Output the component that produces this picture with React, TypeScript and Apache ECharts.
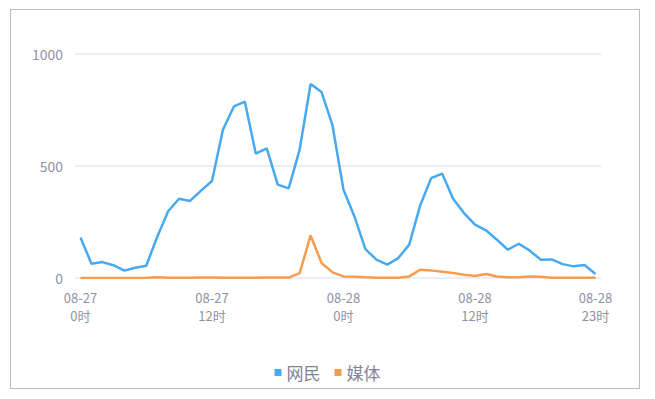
import React, { useEffect, useRef } from "react";
import * as echarts from "echarts";

const hours: string[] = [];
for (let d = 27; d <= 28; d++) {
  for (let h = 0; h < 24; h++) hours.push(`08-${d}\n${h}时`);
}
const categories = hours;

const netizenValues = [
  181, 64, 71, 57, 33, 46, 55, 183, 298, 354, 344, 390,
  433, 662, 766, 787, 555, 579, 417, 400, 573, 866, 830, 681,
  394, 275, 129, 82, 60, 89, 149, 324, 446, 466, 354, 290,
  238, 213, 171, 126, 153, 122, 82, 83, 62, 52, 58, 18,
];
const mediaValues = [
  0, 0, 0, 0, 0, 0, 1, 3, 1, 1, 1, 2,
  2, 1, 1, 1, 1, 2, 2, 2, 22, 190, 67, 25,
  7, 6, 3, 1, 1, 1, 7, 37, 34, 28, 22, 15,
  9, 18, 7, 3, 3, 7, 6, 1, 1, 1, 1, 1,
];
const seriesNames = ["网民", "媒体"];
const labelIndices = [0, 12, 24, 36, 47];
const yTicks = [0, 500, 1000];

const FONT = '"Noto Sans CJK SC", "Noto Sans", sans-serif';
const TEXT = "#8d92a3";

export default function App() {
  const ref = useRef<HTMLDivElement>(null);
  useEffect(() => {
    if (!ref.current) return;
    const chart = echarts.init(ref.current, null, { renderer: "svg" });
    chart.setOption({
      animation: false,
      color: ["#47a9f0", "#f99b4d"],
      textStyle: { fontFamily: FONT },
      grid: { left: 75, right: 54, top: 54, bottom: 121, containLabel: false },
      legend: {
        data: seriesNames,
        top: 359,
        left: "center",
        icon: "rect",
        itemWidth: 7,
        itemHeight: 7,
        itemGap: 14,
        textStyle: { color: "#7f8496", fontSize: 17, fontFamily: FONT },
      },
      xAxis: {
        type: "category",
        boundaryGap: true,
        data: categories,
        axisLine: { show: false },
        axisTick: { show: false },
        axisLabel: {
          interval: (i: number) => labelIndices.includes(i),
          color: TEXT,
          fontSize: 13,
          lineHeight: 18,
          margin: 10,
          fontFamily: FONT,
        },
      },
      yAxis: {
        type: "value",
        min: yTicks[0],
        max: yTicks[yTicks.length - 1],
        interval: 500,
        axisLine: { show: false },
        axisTick: { show: false },
        axisLabel: {
          color: TEXT,
          fontSize: 14,
          margin: 12,
          fontFamily: FONT,
          formatter: (v: number) => String(v),
        },
        splitLine: { lineStyle: { color: "#e4e8f3", width: 1.5 } },
      },
      series: [
        {
          name: seriesNames[0],
          type: "line",
          data: netizenValues,
          showSymbol: false,
          lineStyle: { width: 2.5 },
        },
        {
          name: seriesNames[1],
          type: "line",
          data: mediaValues,
          showSymbol: false,
          lineStyle: { width: 2.5 },
        },
      ],
    });
    return () => chart.dispose();
  }, []);
  return (
    <div style={{ position: "absolute", left: 0, top: 0, width: 655, height: 399, background: "#fff" }}>
      <div
        style={{
          position: "absolute",
          left: 10,
          top: 9,
          width: 628,
          height: 378,
          border: "1.5px solid #bcbcbc",
        }}
      />
      <div ref={ref} style={{ position: "absolute", left: 0, top: 0, width: 655, height: 399 }} />
    </div>
  );
}
